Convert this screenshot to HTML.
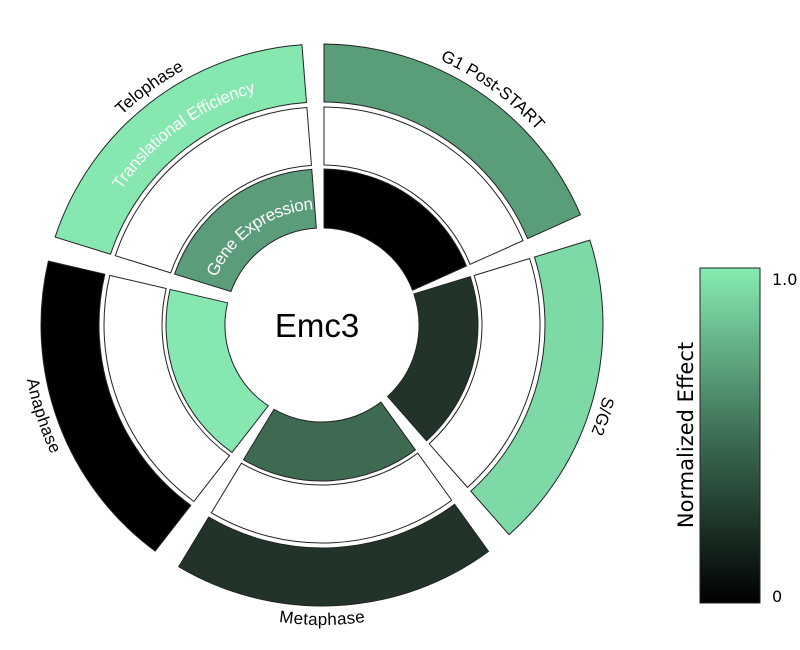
<!DOCTYPE html>
<html><head><meta charset="utf-8"><style>
html,body{margin:0;padding:0;background:#fff;}
svg{display:block;font-family:"Liberation Sans",sans-serif;}
</style></head><body>
<svg id="s" width="800" height="650" viewBox="0 0 800 650" xmlns="http://www.w3.org/2000/svg">
<defs>
<linearGradient id="cb" x1="0" y1="0" x2="0" y2="1">
<stop offset="0" stop-color="#86ebb1"/>
<stop offset="0.5" stop-color="#3d6e54"/>
<stop offset="1" stop-color="#000"/>
</linearGradient>
</defs>
<g id="segs"></g>
<text x="317" y="337" font-size="33" text-anchor="middle" fill="#000">Emc3</text>
<rect x="700" y="268" width="60" height="335" fill="url(#cb)" stroke="#222" stroke-width="1"/>
<text x="772" y="285" font-size="16" font-family="DejaVu Sans" fill="#000">1.0</text>
<text x="772" y="602" font-size="16" font-family="DejaVu Sans" fill="#000">0</text>
<text transform="translate(693,435) rotate(-90)" font-size="21" font-family="DejaVu Sans" text-anchor="middle" fill="#000">Normalized Effect</text>
</svg>
<script>
var cx=322,cy=325;
var rings=[[97,156],[160,218],[223,281]];
var sec=[
 {s:[113,255,287.2],e:[324,325,355.5],c:["#5b9c7a","#fff","#86e8b0"]},
 {s:[324,325,0],e:[531,237,65.8],c:["#000","#fff","#5a9d79"]},
 {s:[479,274,73],e:[432,447,138.7],c:["#22332a","#fff","#7dd9a6"]},
 {s:[383,405,144.2],e:[273,411,211.2],c:["#3e6a52","#fff","#22332a"]},
 {s:[230,455,217.9],e:[108,275,283.1],c:["#86e8b0","#fff","#000"]}
];
function dir(a){var t=a*Math.PI/180;return [Math.sin(t),-Math.cos(t)];}
function pt(r,a){var d=dir(a);return [cx+r*d[0],cy+r*d[1]];}
function hit(L,r){var u=dir(L[2]);var px=L[0]-cx,py=L[1]-cy;var b=px*u[0]+py*u[1];var c=px*px+py*py-r*r;var t=-b+Math.sqrt(Math.max(0,b*b-c));return [(L[0]+t*u[0]).toFixed(2),(L[1]+t*u[1]).toFixed(2)];}
var g=document.getElementById('segs'),h='';
sec.forEach(function(S){
 for(var k=0;k<3;k++){
  var r0=rings[k][0],r1=rings[k][1];
  var p1=hit(S.s,r1),p2=hit(S.e,r1),p3=hit(S.e,r0),p4=hit(S.s,r0);
  h+='<path d="M'+p1+' A'+r1+' '+r1+' 0 0 1 '+p2+' L'+p3+' A'+r0+' '+r0+' 0 0 0 '+p4+' Z" fill="'+S.c[k]+'" stroke="#222" stroke-width="1"/>';
 }
});
function arc(id,r,a0,a1,cw){var p=pt(r,a0),q=pt(r,a1);return '<path id="'+id+'" d="M'+p+' A'+r+' '+r+' 0 0 '+(cw?1:0)+' '+q+'" fill="none"/>';}
h+=arc('l1',290,290,358,1)+arc('l2',290,2,70,1)+arc('l3',290,74,142,1)+arc('l4',290,214,146,0)+arc('l5',290,286,218,0);
h+=arc('l6',248,290,358,1)+arc('l7',122,292,358,1);
function tp(id,txt,fs,fill,dy){return '<text font-size="'+fs+'" fill="'+fill+'" text-anchor="middle" dy="'+dy+'"><textPath href="#'+id+'" startOffset="50%">'+txt+'</textPath></text>';}
h+=tp('l1','Telophase',17,'#000',0)+tp('l2','G1 Post-START',17,'#000',0)+tp('l3','S/G2',17,'#000',0)+tp('l4','Metaphase',17,'#000',10)+tp('l5','Anaphase',17,'#000',10);
h+=tp('l6','Translational Efficiency',17,'#fff',6)+tp('l7','Gene Expression',17,'#fff',6);
g.innerHTML=h;
</script>
</body></html>
